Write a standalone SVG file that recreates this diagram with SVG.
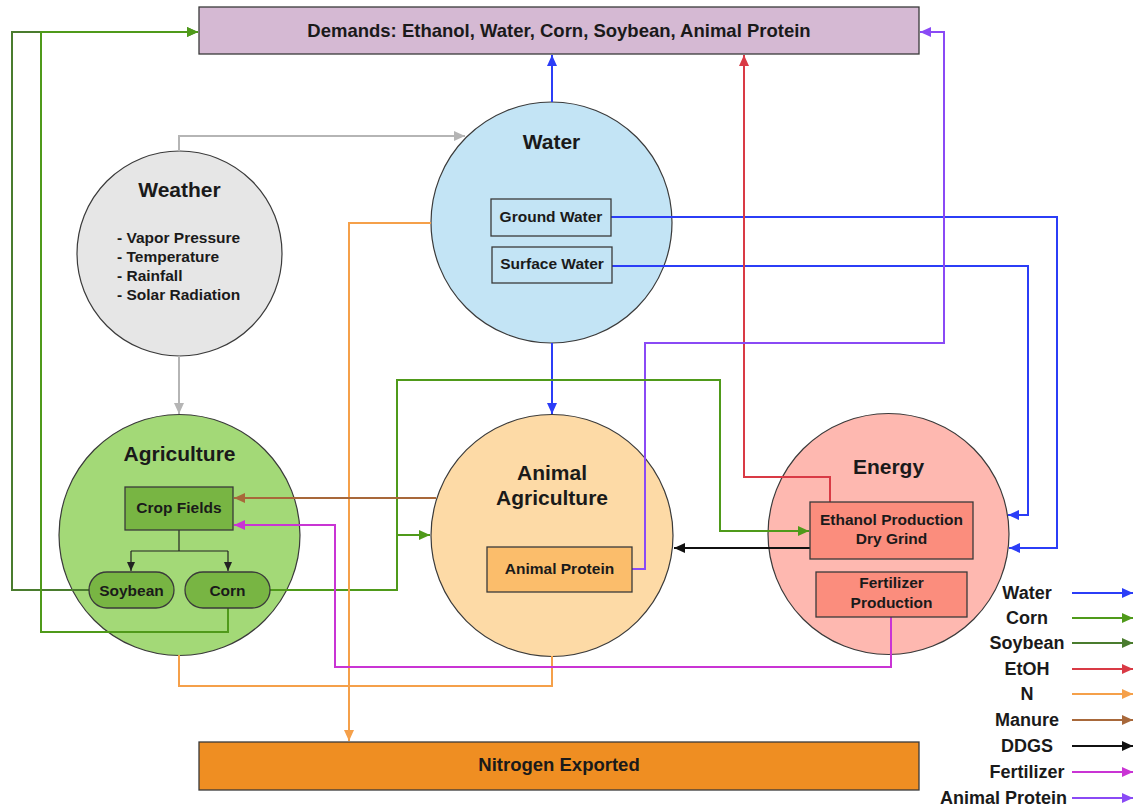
<svg xmlns="http://www.w3.org/2000/svg" width="1136" height="809" viewBox="0 0 1136 809">
<style>
text{font-family:"Liberation Sans",Arial,sans-serif;font-weight:bold;fill:#1a1a1a;text-anchor:middle}
.title{font-size:21px}
.sub{font-size:15.5px}
.big{font-size:18px}
.hdr{font-size:18.5px}
.circ{stroke:#3a3a3a;stroke-width:1.2}
.box{stroke:#3a3a3a;stroke-width:1.3}
.c{fill:none;stroke-width:2;stroke-linejoin:miter}
.water{stroke:#2b3df7}
.corn{stroke:#4f9a1a}
.soy{stroke:#4a7c2e}
.etoh{stroke:#d93a45}
.n{stroke:#f5a04a}
.manure{stroke:#a8683a}
.ddgs{stroke:#111}
.fert{stroke:#c934d4}
.prot{stroke:#8a4af5}
.gray{stroke:#b5b5b5}
.thin{fill:none;stroke:#222;stroke-width:1.2}
</style>
<defs>
<marker id="aWater" markerUnits="userSpaceOnUse" markerWidth="12" markerHeight="10" refX="11" refY="5" orient="auto"><path d="M0,0 L11,5 L0,10 z" fill="#2b3df7"/></marker>
<marker id="aCorn" markerUnits="userSpaceOnUse" markerWidth="12" markerHeight="10" refX="11" refY="5" orient="auto"><path d="M0,0 L11,5 L0,10 z" fill="#4f9a1a"/></marker>
<marker id="aSoy" markerUnits="userSpaceOnUse" markerWidth="12" markerHeight="10" refX="11" refY="5" orient="auto"><path d="M0,0 L11,5 L0,10 z" fill="#4a7c2e"/></marker>
<marker id="aEtoh" markerUnits="userSpaceOnUse" markerWidth="12" markerHeight="10" refX="11" refY="5" orient="auto"><path d="M0,0 L11,5 L0,10 z" fill="#d93a45"/></marker>
<marker id="aN" markerUnits="userSpaceOnUse" markerWidth="12" markerHeight="10" refX="11" refY="5" orient="auto"><path d="M0,0 L11,5 L0,10 z" fill="#f5a04a"/></marker>
<marker id="aManure" markerUnits="userSpaceOnUse" markerWidth="12" markerHeight="10" refX="11" refY="5" orient="auto"><path d="M0,0 L11,5 L0,10 z" fill="#a8683a"/></marker>
<marker id="aDdgs" markerUnits="userSpaceOnUse" markerWidth="12" markerHeight="10" refX="11" refY="5" orient="auto"><path d="M0,0 L11,5 L0,10 z" fill="#111"/></marker>
<marker id="aFert" markerUnits="userSpaceOnUse" markerWidth="12" markerHeight="10" refX="11" refY="5" orient="auto"><path d="M0,0 L11,5 L0,10 z" fill="#c934d4"/></marker>
<marker id="aProt" markerUnits="userSpaceOnUse" markerWidth="12" markerHeight="10" refX="11" refY="5" orient="auto"><path d="M0,0 L11,5 L0,10 z" fill="#8a4af5"/></marker>
<marker id="aGray" markerUnits="userSpaceOnUse" markerWidth="12" markerHeight="10" refX="11" refY="5" orient="auto"><path d="M0,0 L11,5 L0,10 z" fill="#b5b5b5"/></marker>
<marker id="aBlk" markerUnits="userSpaceOnUse" markerWidth="10" markerHeight="8" refX="9" refY="4" orient="auto"><path d="M0,0 L9,4 L0,8 z" fill="#222"/></marker>
</defs>
<rect width="1136" height="809" fill="#fff"/>

<g id="demands"><rect class="box" x="199" y="7" width="720" height="47" fill="#d5b9d3"/><text class="hdr" x="559" y="36.5">Demands: Ethanol, Water, Corn, Soybean, Animal Protein</text></g>
<g id="nitrogen"><rect class="box" x="199" y="742" width="720" height="48" fill="#ef8e22"/><text class="hdr" x="559" y="770.5">Nitrogen Exported</text></g>

<g id="weather"><circle class="circ" cx="179.5" cy="253.5" r="102.5" fill="#e6e6e6"/><text class="title" x="179.5" y="197">Weather</text>
<text class="sub" x="117" y="243" style="text-anchor:start">- Vapor Pressure</text>
<text class="sub" x="117" y="262" style="text-anchor:start">- Temperature</text>
<text class="sub" x="117" y="281" style="text-anchor:start">- Rainfall</text>
<text class="sub" x="117" y="300" style="text-anchor:start">- Solar Radiation</text></g>
<g id="water"><circle class="circ" cx="551.5" cy="222.5" r="120.5" fill="#c3e4f5"/><text class="title" x="551.5" y="149">Water</text></g>
<g id="agriculture"><circle class="circ" cx="179.5" cy="535" r="120.5" fill="#a3d977"/><text class="title" x="179.5" y="461">Agriculture</text></g>
<g id="animal-agriculture"><circle class="circ" cx="552" cy="535.5" r="121" fill="#fddaa6"/><text class="title" x="552" y="480">Animal</text><text class="title" x="552" y="505">Agriculture</text></g>
<g id="energy"><circle class="circ" cx="888.5" cy="534" r="120.5" fill="#feb8b0"/><text class="title" x="888.5" y="474">Energy</text></g>

<g id="connectors">
<path class="c gray" d="M179,151 V136 H465" marker-end="url(#aGray)"/>
<path class="c gray" d="M179,356 V414" marker-end="url(#aGray)"/>
<path class="c water" d="M552,102 V55" marker-end="url(#aWater)"/>
<path class="c water" d="M552,343 V414" marker-end="url(#aWater)"/>
<path class="c water" d="M611,217 H1057 V548 H1009" marker-end="url(#aWater)"/>
<path class="c water" d="M612,266 H1028 V515 H1008" marker-end="url(#aWater)"/>
<path class="c etoh" d="M830,502 V477 H744 V55" marker-end="url(#aEtoh)"/>
<path class="c prot" d="M632,569 H645 V343 H944 V32 H920" marker-end="url(#aProt)"/>
<path class="c soy" d="M89,590 H12 V32 H198" marker-end="url(#aSoy)"/>
<path class="c corn" d="M228,608 V632 H41 V32 H198" marker-end="url(#aCorn)"/>
<path class="c corn" d="M270,590 H397 V380 H720 V531 H809" marker-end="url(#aCorn)"/>
<path class="c corn" d="M397,535 H430" marker-end="url(#aCorn)"/>
<path class="c n" d="M431,223 H349 V741" marker-end="url(#aN)"/>
<path class="c n" d="M179,655 V686 H552 V656"/>
<path class="c manure" d="M436,498 H234" marker-end="url(#aManure)"/>
<path class="c ddgs" d="M810,548 H674" marker-end="url(#aDdgs)"/>
<path class="c fert" d="M891,617 V667 H335 V525 H234" marker-end="url(#aFert)"/>
<path class="thin" d="M179,530 V551"/>
<path class="thin" d="M131,551 H228"/>
<path class="thin" d="M131,551 V571" marker-end="url(#aBlk)"/>
<path class="thin" d="M228,551 V571" marker-end="url(#aBlk)"/>
</g>

<g id="ground-water"><rect class="box" x="491" y="199" width="120" height="37" fill="#c3e4f5"/><text class="sub" x="551" y="221.5">Ground Water</text></g>
<g id="surface-water"><rect class="box" x="492" y="247" width="120" height="36" fill="#c3e4f5"/><text class="sub" x="552" y="268.5">Surface Water</text></g>
<g id="crop-fields"><rect class="box" x="125" y="487" width="108" height="43" fill="#78b543"/><text class="sub" x="179" y="512.5">Crop Fields</text></g>
<g id="soybean"><rect class="box" x="89" y="572" width="85" height="36" rx="18" fill="#78b543"/><text class="sub" x="131.5" y="595.5">Soybean</text></g>
<g id="corn"><rect class="box" x="185" y="572" width="85" height="36" rx="18" fill="#78b543"/><text class="sub" x="227.5" y="595.5">Corn</text></g>
<g id="animal-protein"><rect class="box" x="487" y="547" width="145" height="45" fill="#fbbd6b"/><text class="sub" x="559.5" y="574">Animal Protein</text></g>
<g id="ethanol"><rect class="box" x="810" y="502" width="163" height="57" fill="#fb8d7d"/><text class="sub" x="891.5" y="524.5">Ethanol Production</text><text class="sub" x="891.5" y="544">Dry Grind</text></g>
<g id="fertilizer"><rect class="box" x="816" y="572" width="151" height="45" fill="#fb8d7d"/><text class="sub" x="891.5" y="588">Fertilizer</text><text class="sub" x="891.5" y="607.5">Production</text></g>

<g id="legend">
<text class="big" x="1027" y="599">Water</text><path class="c water" d="M1072,593 H1133" marker-end="url(#aWater)"/>
<text class="big" x="1027" y="624">Corn</text><path class="c corn" d="M1072,618 H1133" marker-end="url(#aCorn)"/>
<text class="big" x="1027" y="649">Soybean</text><path class="c soy" d="M1072,643 H1133" marker-end="url(#aSoy)"/>
<text class="big" x="1027" y="675">EtOH</text><path class="c etoh" d="M1072,669 H1133" marker-end="url(#aEtoh)"/>
<text class="big" x="1027" y="700">N</text><path class="c n" d="M1072,694 H1133" marker-end="url(#aN)"/>
<text class="big" x="1027" y="726">Manure</text><path class="c manure" d="M1072,720 H1133" marker-end="url(#aManure)"/>
<text class="big" x="1027" y="752">DDGS</text><path class="c ddgs" d="M1072,746 H1133" marker-end="url(#aDdgs)"/>
<text class="big" x="1027" y="778">Fertilizer</text><path class="c fert" d="M1072,772 H1133" marker-end="url(#aFert)"/>
<text class="big" x="1067" y="804" style="text-anchor:end">Animal Protein</text><path class="c prot" d="M1072,798 H1133" marker-end="url(#aProt)"/>
</g>
</svg>
